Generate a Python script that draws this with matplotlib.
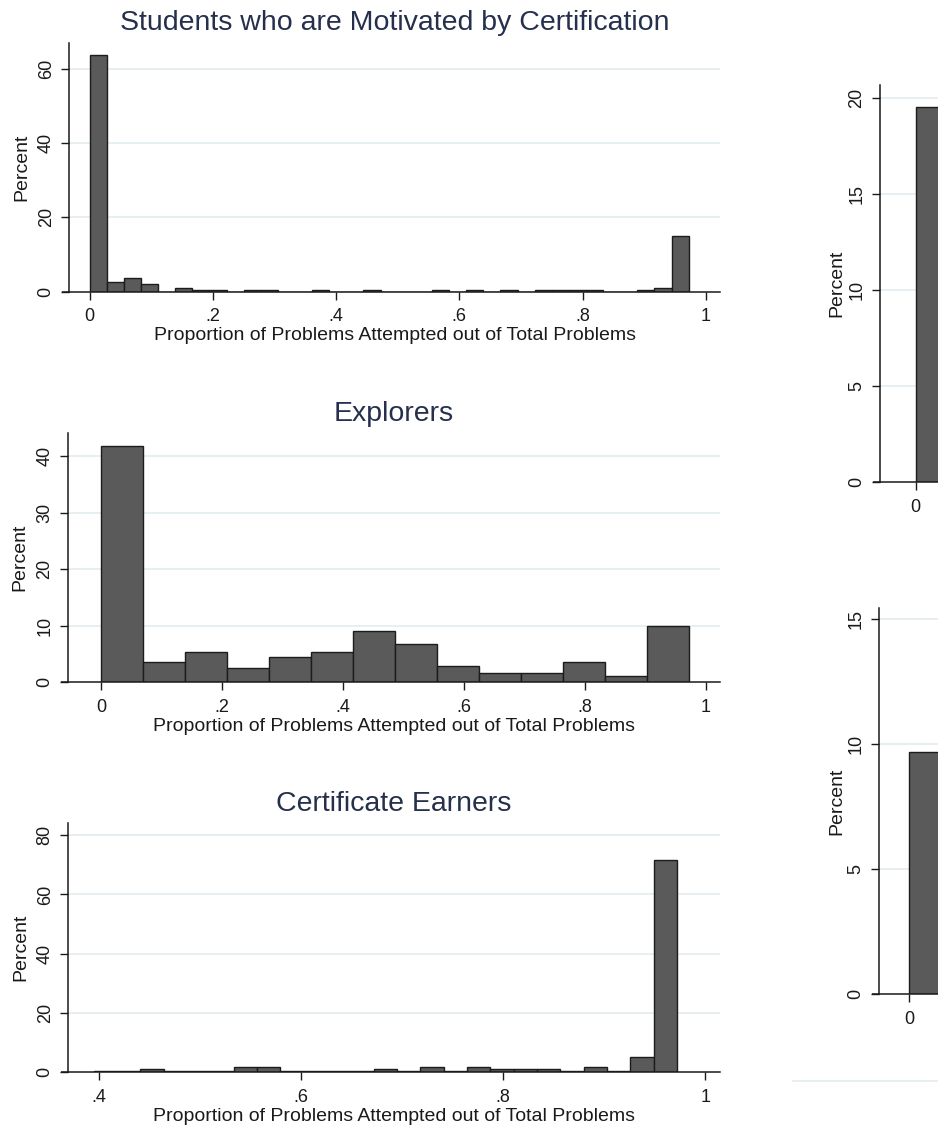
import numpy as np
import matplotlib
matplotlib.use('Agg')
import matplotlib.pyplot as plt
from matplotlib.lines import Line2D

plt.rcParams['font.family'] = ['Liberation Sans', 'DejaVu Sans']

# percent of students per bin of "proportion of problems attempted"
motivated_pct = [63.8, 2.6, 3.7, 2.2, 0.0, 1.0, 0.5, 0.5, 0.0, 0.5,
                 0.5, 0.0, 0.0, 0.5, 0.0, 0.0, 0.5, 0.0, 0.0, 0.0,
                 0.45, 0.0, 0.45, 0.0, 0.45, 0.0, 0.45, 0.45, 0.45, 0.45,
                 0.0, 0.0, 0.45, 0.9, 15.1]
explorer_pct = [41.8, 3.6, 5.4, 2.5, 4.4, 5.4, 9.0, 6.8, 2.9, 1.7,
                1.7, 3.6, 1.1, 10.0]
earner_pct = [0.45, 0.45, 1.1, 0.45, 0.45, 0.45, 1.9, 1.9, 0.45, 0.45,
              0.45, 0.45, 1.1, 0.45, 1.9, 0.45, 1.9, 1.1, 1.1, 1.1,
              0.45, 1.9, 0.45, 5.3, 71.7]
other_top_pct = [19.5]
other_bottom_pct = [9.7]

# bin start and width for each histogram
motivated_start, motivated_width = 0.0, 1 / 36
explorer_start, explorer_width = 0.0, 2.5 / 36
earner_start, earner_width = 0.395, 0.02308
other_start, other_width = 0.0, 2.5 / 36

xlab = 'Proportion of Problems Attempted out of Total Problems'

W, H = 938, 1128
BAR = '#5a5a5a'
EDGE = '#1c1c1c'
GRID = '#e6eef1'
TITLE_C = '#26304d'
TXT = '#1a1a1a'

fig = plt.figure(figsize=(W / 100, H / 100), dpi=100)


def px_rect(left, top, right, bottom):
    return [left / W, 1 - bottom / H, (right - left) / W, (bottom - top) / H]


def hist_panel(rect, start, width, pct, xlim, ylim, xticks, xticklabels,
               yticks, title=None, xlabel=None, ylabelpad=5.5):
    ax = fig.add_axes(rect)
    lefts = start + width * np.arange(len(pct))
    ax.bar(lefts, pct, width=width, align='edge', color=BAR,
           edgecolor=EDGE, linewidth=1.0, zorder=2)
    ax.set_xlim(*xlim)
    ax.set_ylim(*ylim)
    ax.set_xticks(xticks)
    ax.set_xticklabels(xticklabels)
    ax.set_yticks(yticks)
    ax.set_yticklabels([str(t) for t in yticks], rotation=90, va='center')
    for t in yticks[1:]:
        ax.axhline(t, color=GRID, lw=1.3, zorder=0)
    for s in ['top', 'right']:
        ax.spines[s].set_visible(False)
    for s in ['left', 'bottom']:
        ax.spines[s].set_linewidth(1.1)
        ax.spines[s].set_color(TXT)
    # x axis line runs a little past the y axis
    ax.plot([-0.011, 0], [0, 0], transform=ax.transAxes, color=TXT,
            lw=1.1, clip_on=False, solid_capstyle='butt')
    ax.tick_params(axis='both', direction='out', length=5.5, width=1.0,
                   color=TXT, labelcolor=TXT, labelsize=13)
    ax.tick_params(axis='x', pad=6.5)
    ax.tick_params(axis='y', pad=5)
    ax.set_ylabel('Percent', fontsize=14, color=TXT, labelpad=ylabelpad)
    if xlabel:
        ax.set_xlabel(xlabel, fontsize=14, color=TXT, labelpad=1.5)
    if title:
        ax.set_title(title, fontsize=20.5, color=TITLE_C, pad=9)
    return ax


ticks01 = [0, 0.2, 0.4, 0.6, 0.8, 1]
labels01 = ['0', '.2', '.4', '.6', '.8', '1']

hist_panel(px_rect(69.3, 42.7, 720, 291.7), motivated_start, motivated_width,
           motivated_pct, (-0.033, 1.023), (0, 67), ticks01, labels01,
           [0, 20, 40, 60], 'Students who are Motivated by Certification', xlab)

hist_panel(px_rect(68, 433.3, 720, 682.3), explorer_start, explorer_width,
           explorer_pct, (-0.0546, 1.0236), (0, 44), ticks01, labels01,
           [0, 10, 20, 30, 40], 'Explorers', xlab)

hist_panel(px_rect(68.3, 823.3, 720, 1072.3), earner_start, earner_width,
           earner_pct, (0.370, 1.0144), (0, 84), [0.4, 0.6, 0.8, 1],
           ['.4', '.6', '.8', '1'], [0, 20, 40, 60, 80],
           'Certificate Earners', xlab)

# the two right-hand histograms run off the edge of the page
hist_panel(px_rect(880, 85, 1520, 482.3), other_start, other_width,
           other_top_pct, (-0.06, 1.02), (0, 20.65), [0], ['0'],
           [0, 5, 10, 15, 20], ylabelpad=2)

hist_panel(px_rect(879.3, 608.3, 1519.3, 994.3), other_start, other_width,
           other_bottom_pct, (-0.05, 1.02), (0, 15.44), [0], ['0'],
           [0, 5, 10, 15], ylabelpad=2)

fig.add_artist(Line2D([793 / W, 1.0], [1 - 1081 / H, 1 - 1081 / H],
                      color=GRID, lw=1.3))

fig.savefig('out.png', dpi=100, facecolor='white')
